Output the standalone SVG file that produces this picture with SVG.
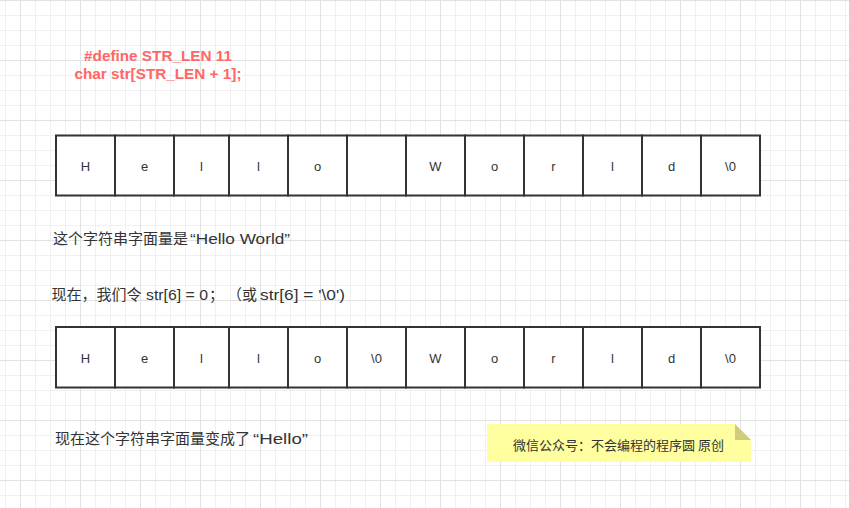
<svg xmlns="http://www.w3.org/2000/svg" width="849" height="508" viewBox="0 0 849 508">
<style>
.cell rect{fill:#ffffff;stroke:#333333;stroke-width:2}
.cell text{font-family:"Liberation Sans","Noto Sans CJK SC",sans-serif;font-size:13px;fill:#333333;text-anchor:middle}
.lbl{font-family:"Liberation Sans","Noto Sans CJK SC",sans-serif;font-size:15px;fill:#333333}
.code{font-family:"Liberation Sans","Noto Sans CJK SC",sans-serif;font-size:15.3px;font-weight:bold;fill:#FF6666;text-anchor:middle}
</style>
<defs>
<pattern id="grid" x="20" y="0" width="60" height="60" patternUnits="userSpaceOnUse">
<path d="M15.5 0V60M30.5 0V60M45.5 0V60M0 15.5H60M0 30.5H60M0 45.5H60" stroke="#f0f0f0" stroke-width="1" fill="none"/>
<path d="M0.5 0V60M0 0.5H60" stroke="#e2e2e2" stroke-width="1" fill="none"/>
</pattern>
</defs>
<rect width="849" height="508" fill="#ffffff"/>
<rect width="849" height="508" fill="url(#grid)"/>
<g id="title">
<text class="code" x="158" y="60.5">#define STR_LEN 11</text>
<text class="code" x="158" y="79">char str[STR_LEN + 1];</text>
</g>
<g id="row1">
<g id="r1c0" class="cell"><rect x="56" y="135.5" width="59" height="60"/><text x="85.5" y="171">H</text></g>
<g id="r1c1" class="cell"><rect x="115" y="135.5" width="59" height="60"/><text x="144.5" y="171">e</text></g>
<g id="r1c2" class="cell"><rect x="174" y="135.5" width="55" height="60"/><text x="201.5" y="171">l</text></g>
<g id="r1c3" class="cell"><rect x="229" y="135.5" width="59" height="60"/><text x="258.5" y="171">l</text></g>
<g id="r1c4" class="cell"><rect x="288" y="135.5" width="59" height="60"/><text x="317.5" y="171">o</text></g>
<g id="r1c5" class="cell"><rect x="347" y="135.5" width="59" height="60"/></g>
<g id="r1c6" class="cell"><rect x="406" y="135.5" width="59" height="60"/><text x="435.5" y="171">W</text></g>
<g id="r1c7" class="cell"><rect x="465" y="135.5" width="59" height="60"/><text x="494.5" y="171">o</text></g>
<g id="r1c8" class="cell"><rect x="524" y="135.5" width="59" height="60"/><text x="553.5" y="171">r</text></g>
<g id="r1c9" class="cell"><rect x="583" y="135.5" width="59" height="60"/><text x="612.5" y="171">l</text></g>
<g id="r1c10" class="cell"><rect x="642" y="135.5" width="59" height="60"/><text x="671.5" y="171">d</text></g>
<g id="r1c11" class="cell"><rect x="701" y="135.5" width="59" height="60"/><text x="730.5" y="171">\0</text></g>
</g>
<g id="row2">
<g id="r2c0" class="cell"><rect x="56" y="327" width="59" height="60.5"/><text x="85.5" y="363">H</text></g>
<g id="r2c1" class="cell"><rect x="115" y="327" width="59" height="60.5"/><text x="144.5" y="363">e</text></g>
<g id="r2c2" class="cell"><rect x="174" y="327" width="55" height="60.5"/><text x="201.5" y="363">l</text></g>
<g id="r2c3" class="cell"><rect x="229" y="327" width="59" height="60.5"/><text x="258.5" y="363">l</text></g>
<g id="r2c4" class="cell"><rect x="288" y="327" width="59" height="60.5"/><text x="317.5" y="363">o</text></g>
<g id="r2c5" class="cell"><rect x="347" y="327" width="59" height="60.5"/><text x="376.5" y="363">\0</text></g>
<g id="r2c6" class="cell"><rect x="406" y="327" width="59" height="60.5"/><text x="435.5" y="363">W</text></g>
<g id="r2c7" class="cell"><rect x="465" y="327" width="59" height="60.5"/><text x="494.5" y="363">o</text></g>
<g id="r2c8" class="cell"><rect x="524" y="327" width="59" height="60.5"/><text x="553.5" y="363">r</text></g>
<g id="r2c9" class="cell"><rect x="583" y="327" width="59" height="60.5"/><text x="612.5" y="363">l</text></g>
<g id="r2c10" class="cell"><rect x="642" y="327" width="59" height="60.5"/><text x="671.5" y="363">d</text></g>
<g id="r2c11" class="cell"><rect x="701" y="327" width="59" height="60.5"/><text x="730.5" y="363">\0</text></g>
</g>
<g id="text1"><text class="lbl" x="53" y="244">这个字符串字面量是<tspan x="190" textLength="100" lengthAdjust="spacingAndGlyphs">“Hello World”</tspan></text></g>
<g id="text2"><text class="lbl" x="51.5" y="300">现在，我们令 <tspan x="146" textLength="62" lengthAdjust="spacingAndGlyphs">str[6] = 0</tspan><tspan x="209">；</tspan><tspan x="227">（或 </tspan><tspan x="260" textLength="85" lengthAdjust="spacingAndGlyphs">str[6] = '\0')</tspan></text></g>
<g id="text3"><text class="lbl" x="55" y="444">现在这个字符串字面量变成了<tspan x="253" textLength="55" lengthAdjust="spacingAndGlyphs">“Hello”</tspan></text></g>
<g id="note">
<path d="M487 424H735L751 440V462H487Z" fill="#FFFFA0"/>
<path d="M735 424L751 440H735Z" fill="#CDCD7C"/>
<text x="513" y="449.5" font-family="Noto Sans CJK SC, sans-serif" font-size="13" fill="#333333">微信公众号：不会编程的程序圆 原创</text>
</g>
<g id="connectors"/>
</svg>
